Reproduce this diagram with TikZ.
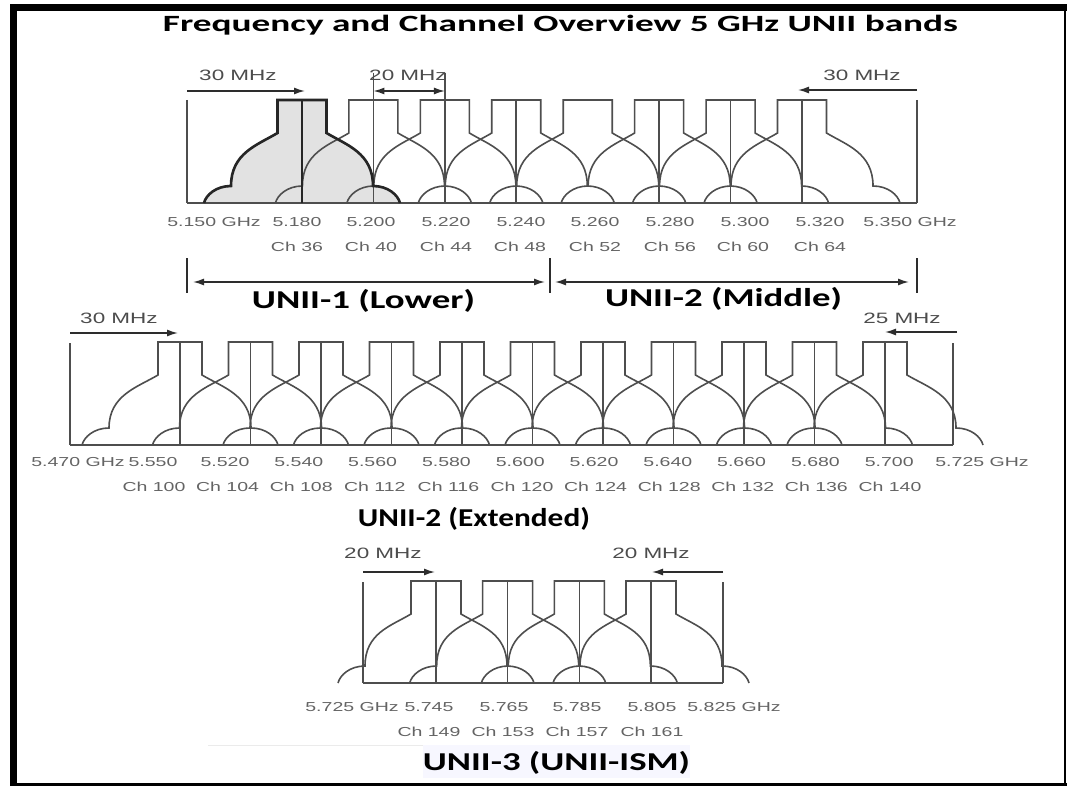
\documentclass[tikz,border=0pt]{standalone}
\usepackage{fontspec}
\setmainfont{Liberation Sans}
\newfontfamily\calfont{Carlito}
\usetikzlibrary{arrows.meta}
\definecolor{specc}{RGB}{78,78,78}
\definecolor{lblgray}{RGB}{100,100,100}
\definecolor{fillg}{RGB}{226,226,226}
\definecolor{dimc}{RGB}{45,45,45}
\newcommand{\sx}[1]{\scalebox{1.5}[1]{#1}}
% channel mask path: #1 centre, #2 top, #3 baseline, #4 half width of flat top
\newcommand{\maskpath}[4]{({#1-98},{#3}) .. controls ({#1-96},{#3-8}) and ({#1-86},{#3-17}) .. ({#1-71},{#3-17})
 .. controls ({#1-71},{#3-50}) and ({#1-#4-20},{#2+45}) .. ({#1-#4},{#2+33})
 -- ({#1-#4},{#2}) -- ({#1+#4},{#2}) -- ({#1+#4},{#2+33})
 .. controls ({#1+#4+20},{#2+45}) and ({#1+71},{#3-50}) .. ({#1+71},{#3-17})
 .. controls ({#1+86},{#3-17}) and ({#1+96},{#3-8}) .. ({#1+98},{#3})}
\tikzset{
  specline/.style={draw=specc, line width=1.6pt},
  boldline/.style={draw=black!85, line width=2.6pt},
  dimarrow/.style={draw=dimc, line width=1.5pt, -{Latex[length=11pt,width=7pt]}},
  dimboth/.style={draw=dimc, line width=1.5pt, {Latex[length=11pt,width=7pt]}-{Latex[length=11pt,width=7pt]}},
  tickline/.style={draw=dimc, line width=2pt},
  lbl/.style={inner sep=0pt, text=lblgray, font=\fontsize{13}{13}\selectfont},
  mhz/.style={inner sep=0pt, text=black!70, font=\fontsize{15}{15}\selectfont},
  big/.style={inner sep=0pt, text=black},
}
\begin{document}
\begin{tikzpicture}[x=1pt,y=-1pt]
\useasboundingbox (0,0) rectangle (1067,786);
\fill[white] (0,0) rectangle (1067,786);
% frame
\draw[line width=7pt] (13.5,786) -- (13.5,4);
\draw[line width=7pt] (10,7.5) -- (1067,7.5);
\draw[line width=2.5pt] (1065,7.5) -- (1065,786);
\draw[line width=2.5pt] (10,784.5) -- (1067,784.5);

% title
\node[big] (title) at (560.5,25) {\resizebox*{795pt}{20pt}{\calfont\bfseries Frequency and Channel Overview 5 GHz UNII bands}};

% ================= top band (UNII-1 / UNII-2) =================
\fill[fillg] \maskpath{302}{100}{203}{24.5} -- cycle;
\draw[specline] (187,203) -- (917,203);
\draw[specline] (187,100) -- (187,203);
\draw[specline] (917,100) -- (917,203);
\foreach \k in {0,...,7}{
  \pgfmathsetmacro\c{302+71.43*\k}
  \draw[specline] \maskpath{\c}{100}{203}{24.5};
}
\foreach \k in {2,3,5,6,7}{
  \pgfmathsetmacro\c{302+71.43*\k}
  \draw[specline] (\c,100) -- (\c,203);
}
\draw[specline] (373.4,73) -- (373.4,203);
\draw[specline] (444.9,73) -- (444.9,203);
\draw[boldline] \maskpath{302}{100}{203}{24.5};
\draw[boldline] (302,100) -- (302,203);

\coordinate (tl1) at (187,91); \coordinate (tl2) at (305,91);
\coordinate (tm1) at (373.4,91); \coordinate (tm2) at (444.9,91);
\coordinate (tr1) at (917,90); \coordinate (tr2) at (798,90);
\draw[dimarrow] (tl1) -- (tl2);
\draw[dimboth] (tm1) -- (tm2);
\draw[dimarrow] (tr1) -- (tr2);
\node[mhz] (m30a) at (238,75) {\sx{30 MHz}};
\node[mhz] (m20a) at (408,75) {\sx{20 MHz}};
\node[mhz] (m30b) at (862,75) {\sx{30 MHz}};

\node[lbl] (fa0) at (214,222) {\sx{5.150 GHz}};
\foreach \t/\x [count=\i] in {5.180/297,5.200/371,5.220/446,5.240/521,5.260/595,5.280/670,5.300/745,5.320/820}
  \node[lbl] (fa\i) at (\x,222) {\sx{\t}};
\node[lbl] (fa9) at (910,222) {\sx{5.350 GHz}};
\foreach \t/\x [count=\i] in {36/297,40/371,44/446,48/520,52/595,56/670,60/743,64/820}
  \node[lbl] (ca\i) at (\x,247) {\sx{Ch \t}};

% UNII-1 / UNII-2 dimension lines
\coordinate (t1a) at (187,258); \coordinate (t1b) at (187,293);
\coordinate (t2a) at (550,258); \coordinate (t2b) at (550,293);
\coordinate (t3a) at (917,258); \coordinate (t3b) at (917,293);
\draw[tickline] (t1a) -- (t1b);
\draw[tickline] (t2a) -- (t2b);
\draw[tickline] (t3a) -- (t3b);
\coordinate (u1a) at (193,282); \coordinate (u1b) at (545,282);
\coordinate (u2a) at (555,282); \coordinate (u2b) at (909,282);
\draw[dimboth] (u1a) -- (u1b);
\draw[dimboth] (u2a) -- (u2b);
\node[big] (unii1) at (363.5,300.5) {\resizebox*{223pt}{23pt}{\calfont\bfseries UNII-1 (Lower)}};
\node[big] (unii2) at (723.5,299) {\resizebox*{237pt}{23pt}{\calfont\bfseries UNII-2 (Middle)}};

% ================= middle band (UNII-2 Extended) =================
\draw[specline] (70,445) -- (953,445);
\draw[specline] (70,343) -- (70,445);
\draw[specline] (953,343) -- (953,445);
\foreach \k in {0,...,10}{
  \pgfmathsetmacro\c{180+70.5*\k}
  \draw[specline] \maskpath{\c}{342}{445}{22};
  \draw[specline] (\c,342) -- (\c,445);
}
\coordinate (ml1) at (70,333); \coordinate (ml2) at (178,333);
\coordinate (mr1) at (957,332); \coordinate (mr2) at (885,332);
\draw[dimarrow] (ml1) -- (ml2);
\draw[dimarrow] (mr1) -- (mr2);
\node[mhz] (m30c) at (119,318) {\sx{30 MHz}};
\node[mhz] (m25) at (902,318) {\sx{25 MHz}};

\node[lbl] (fb0) at (78,462) {\sx{5.470 GHz}};
\node[lbl] (fb1) at (153,462) {\sx{5.550}};
\foreach \t [count=\i from 0] in {5.520,5.540,5.560,5.580,5.600,5.620,5.640,5.660,5.680,5.700}
  \node[lbl] (fbb\i) at ({225+73.8*\i},462) {\sx{\t}};
\node[lbl] (fb12) at (982,462) {\sx{5.725 GHz}};
\foreach \t [count=\i from 0] in {100,104,108,112,116,120,124,128,132,136,140}
  \node[lbl] (cb\i) at ({154+73.6*\i},487) {\sx{Ch \t}};
\node[big] (unii2e) at (474,519) {\resizebox*{232pt}{23pt}{\calfont\bfseries UNII-2 (Extended)}};

% ================= bottom band (UNII-3) =================
\draw[specline] (363,683) -- (723,683);
\draw[specline] (363,582) -- (363,683);
\draw[specline] (723,582) -- (723,683);
\foreach \k in {0,...,3}{
  \pgfmathsetmacro\c{436+71.67*\k}
  \draw[specline] \maskpath{\c}{581}{683}{25};
  \draw[specline] (\c,581) -- (\c,683);
}
\coordinate (bl1) at (363,572); \coordinate (bl2) at (435,572);
\coordinate (br1) at (723,572); \coordinate (br2) at (652,572);
\draw[dimarrow] (bl1) -- (bl2);
\draw[dimarrow] (br1) -- (br2);
\node[mhz] (m20b) at (383,553) {\sx{20 MHz}};
\node[mhz] (m20c) at (651,553) {\sx{20 MHz}};

\node[lbl] (fc0) at (352,707) {\sx{5.725 GHz}};
\foreach \t/\x [count=\i] in {5.745/429,5.765/504,5.785/577,5.805/652}
  \node[lbl] (fc\i) at (\x,707) {\sx{\t}};
\node[lbl] (fc5) at (734,707) {\sx{5.825 GHz}};
\foreach \t/\x [count=\i] in {149/429,153/503,157/577,161/652}
  \node[lbl] (cc\i) at (\x,732) {\sx{Ch \t}};

\fill[blue!3] (423,745) rectangle (690,778);
\draw[black!8, line width=1pt] (208,745.5) -- (423,745.5);
\node[big] (unii3) at (556.5,763) {\resizebox*{267pt}{23pt}{\calfont\bfseries UNII-3 (UNII-ISM)}};
\end{tikzpicture}
\end{document}
